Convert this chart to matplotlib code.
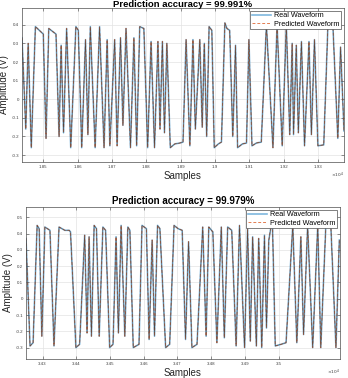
import matplotlib
matplotlib.use("Agg")
import matplotlib.pyplot as plt
import numpy as np

# ---------------- data ----------------
top_title = "Prediction accuracy = 99.991%"
top_samples = [18438, 18449, 18456, 18465, 18477, 18500, 18508, 18516, 18537, 18546,
               18552, 18559, 18568, 18580, 18595, 18602, 18612, 18623, 18630, 18637,
               18651, 18664, 18677, 18686, 18694, 18708, 18715, 18725, 18732, 18741,
               18754, 18764, 18772, 18781, 18793, 18804, 18814, 18824, 18834, 18840,
               18847, 18853, 18860, 18870, 18883, 18898, 18907, 18916, 18927, 18936,
               18943, 18956, 18963, 18969, 18976, 18983, 18991, 18998, 19010, 19019,
               19029, 19035, 19043, 19052, 19060, 19066, 19080, 19092, 19099, 19108,
               19121, 19135, 19150, 19169, 19181, 19196, 19208, 19218, 19225, 19229,
               19237, 19243, 19252, 19261, 19274, 19281, 19290, 19300, 19317, 19329,
               19344, 19358, 19366, 19376]
top_values = [0.33, -0.16, 0.30, -0.26, 0.39, 0.35, -0.21, 0.38, 0.35, -0.20,
              0.29, -0.18, 0.38, -0.26, 0.39, 0.37, -0.26, 0.32, -0.19, 0.39,
              -0.26, 0.39, -0.26, 0.32, -0.25, 0.32, -0.25, 0.33, -0.14, 0.38,
              -0.26, 0.33, -0.25, 0.39, 0.38, -0.26, 0.31, -0.26, 0.31, -0.16,
              0.31, -0.18, 0.30, -0.26, -0.24, -0.235, -0.23, 0.32, -0.25, 0.32,
              -0.16, 0.32, -0.15, 0.30, -0.20, 0.39, 0.37, -0.26, -0.24, -0.23,
              0.41, 0.38, 0.37, -0.20, 0.29, -0.26, -0.24, -0.235, 0.32, -0.25,
              -0.235, -0.23, 0.40, -0.26, 0.40, -0.25, 0.40, -0.19, 0.30, -0.19,
              0.29, -0.18, 0.31, -0.25, 0.31, -0.19, 0.32, -0.25, -0.245, 0.39,
              0.38, -0.21, 0.28, -0.17]
top_xticks = [18500, 18600, 18700, 18800, 18900, 19000, 19100, 19200, 19300]
top_xticklabels = ["1.85", "1.86", "1.87", "1.88", "1.89", "1.9", "1.91", "1.92", "1.93"]
top_yticks = [-0.3, -0.2, -0.1, 0, 0.1, 0.2, 0.3, 0.4]
top_yticklabels = ["-0.3", "-0.2", "-0.1", "0", "0.1", "0.2", "0.3", "0.4"]

bot_title = "Prediction accuracy = 99.979%"
bot_samples = [34251, 34263, 34272, 34284, 34290, 34298, 34307, 34322, 34334, 34349,
               34366, 34379, 34383, 34399, 34410, 34425, 34432, 34438, 34445, 34453,
               34460, 34468, 34479, 34487, 34499, 34509, 34518, 34525, 34533, 34544,
               34553, 34559, 34569, 34586, 34595, 34608, 34616, 34625, 34632, 34641,
               34648, 34665, 34677, 34690, 34702, 34714, 34724, 34733, 34743, 34758,
               34775, 34785, 34793, 34805, 34817, 34830, 34839, 34849, 34861, 34874,
               34884, 34899, 34908, 34916, 34923, 34934, 34941, 34950, 34958, 34964,
               34971, 34978, 34982, 34990, 35007, 35022, 35042, 35054, 35066, 35074,
               35086, 35101, 35116, 35125, 35140, 35155, 35170, 35180]
bot_values = [0.37, -0.29, -0.27, 0.45, 0.43, -0.23, 0.44, 0.42, -0.29, 0.44,
              0.42, 0.42, 0.41, -0.30, -0.28, 0.39, -0.21, 0.38, -0.23, 0.45,
              0.43, -0.23, 0.44, 0.42, -0.30, -0.28, 0.38, -0.21, 0.45, -0.23,
              0.44, 0.42, -0.30, -0.28, 0.45, 0.43, -0.25, 0.36, -0.23, 0.45,
              0.43, -0.30, -0.28, 0.45, 0.43, 0.42, -0.25, 0.35, -0.30, -0.28,
              0.44, -0.23, 0.44, 0.41, -0.27, 0.44, -0.24, 0.44, 0.42, -0.29,
              0.45, -0.30, 0.43, -0.26, 0.38, -0.29, 0.37, -0.30, 0.39, -0.18,
              0.36, 0.45, 0.44, -0.29, -0.28, -0.27, 0.45, -0.27, 0.38, -0.22,
              0.45, -0.30, 0.45, -0.30, 0.45, 0.44, -0.30, 0.36]
bot_xticks = [34300, 34400, 34500, 34600, 34700, 34800, 34900, 35000]
bot_xticklabels = ["3.43", "3.44", "3.45", "3.46", "3.47", "3.48", "3.49", "3.5"]
bot_yticks = [-0.3, -0.2, -0.1, 0, 0.1, 0.2, 0.3, 0.4, 0.5]
bot_yticklabels = ["-0.3", "-0.2", "-0.1", "0", "0.1", "0.2", "0.3", "0.4", "0.5"]

legend_labels = ["Real Waveform", "Predicted Waveform"]

# ---------------- styling ----------------
plt.rcParams['font.family'] = ['Liberation Sans', 'DejaVu Sans']
blue = (0.0, 0.447, 0.741)
orange = (0.85, 0.325, 0.098)

fig = plt.figure(figsize=(3.48, 3.78), dpi=100)


def make_panel(rect, xs, ys, title, xticks, xtl, yticks, ytl, xlim, ylim, title_top=None):
    ax = fig.add_axes(rect)
    ax.plot(xs, ys, color=blue, lw=1.2, alpha=0.5, label=legend_labels[0],
            solid_joinstyle='round')
    ax.plot(xs, ys, color=orange, lw=0.7, ls=(0, (3, 2)), alpha=0.75, label=legend_labels[1])
    ax.plot(xs, ys, color='#3a3a3a', lw=0.35, alpha=0.85, solid_joinstyle='round')
    ax.set_xlim(*xlim)
    ax.set_ylim(*ylim)
    ax.set_xticks(xticks)
    ax.set_xticklabels(xtl)
    ax.set_yticks(yticks)
    ax.set_yticklabels(ytl)
    ax.tick_params(direction='in', length=2, width=0.4, labelsize=3.2,
                   colors='#404040', top=True, right=True, pad=2)
    ax.grid(True, color='#e3e3e3', lw=0.5)
    ax.set_axisbelow(True)
    for s in ax.spines.values():
        s.set_color('#4d4d4d')
        s.set_linewidth(0.5)
    ax.set_xlabel("Samples", fontsize=7, color='#262626', labelpad=1.5)
    ax.set_ylabel("Amplitude (V)", fontsize=7, color='#262626', labelpad=2)
    if title_top is None:
        ax.set_title(title, fontsize=7, fontweight='bold', pad=2)
    else:
        fig.text(rect[0] + rect[2] / 2, title_top, title, fontsize=6.8,
                 fontweight='bold', ha='center', va='top')
    leg = ax.legend(loc='upper right', fontsize=5.2, frameon=True, fancybox=False,
                    borderpad=0.25, handlelength=2.6, labelspacing=0.15,
                    borderaxespad=0.35, handletextpad=0.5, framealpha=1)
    leg.get_frame().set_edgecolor('#4d4d4d')
    leg.get_frame().set_linewidth(0.5)
    ax.text(1.0, -0.055, r"$\times10^4$", transform=ax.transAxes, fontsize=3.2,
            color='#404040', ha='right', va='top')
    return ax


make_panel([22 / 348, 1 - 162 / 378, 322 / 348, 154 / 378],
           top_samples, top_values, top_title,
           top_xticks, top_xticklabels, top_yticks, top_yticklabels,
           (18438, 19376), (-0.337, 0.49), title_top=1 - 0.3 / 378)

make_panel([26 / 348, 1 - 359 / 378, 314 / 348, 152 / 378],
           bot_samples, bot_values, bot_title,
           bot_xticks, bot_xticklabels, bot_yticks, bot_yticklabels,
           (34251, 35182), (-0.37, 0.563))

fig.savefig("out.png", dpi=100)
